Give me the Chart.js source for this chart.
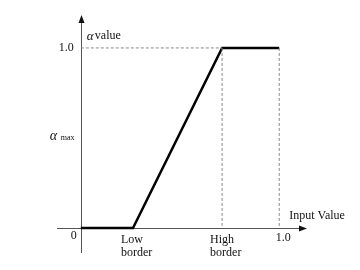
<!DOCTYPE html>
<html>
<head>
<meta charset="utf-8">
<script src="https://cdn.jsdelivr.net/npm/chart.js@4.4.1/dist/chart.umd.min.js"></script>
<style>
  html, body { margin: 0; padding: 0; background: #fff; }
  #wrap { width: 360px; height: 270px; }
</style>
</head>
<body>
<div id="wrap"><canvas id="alphaChart" width="360" height="270"></canvas></div>
<script>
// transfer curve: input value -> alpha
const lowBorder = 0.263;
const highBorder = 0.712;
const curveX = [0, lowBorder, highBorder, 1.0];
const curveY = [0, 0, 1.0, 1.0];
const alphaMax = 0.51;

// tick-style labels
const xLabels = [
    { x: lowBorder, lines: ['Low', 'border'] },
    { x: highBorder, lines: ['High', 'border'] },
    { x: 1.0, lines: ['1.0'] }
];
const yLabels = [
    { y: 1.0, text: '1.0' }
];

const xMin = -0.12, xMax = 1.14;
const yMin = -0.139, yMax = 1.183;

const serif = '"Liberation Serif", "DejaVu Serif", serif';

function toPoints(xs, ys) {
    return xs.map((x, i) => ({ x: x, y: ys[i] }));
}

const axesPlugin = {
    id: 'axesPlugin',
    beforeDatasetsDraw(chart) {
        const ctx = chart.ctx;
        const xs = chart.scales.x, ys = chart.scales.y;
        const x0 = xs.getPixelForValue(0), y0 = ys.getPixelForValue(0);
        const left = xs.getPixelForValue(xMin), right = xs.getPixelForValue(xMax);
        const top = ys.getPixelForValue(yMax), bottom = ys.getPixelForValue(yMin);
        ctx.save();
        ctx.strokeStyle = '#555';
        ctx.lineWidth = 1;
        ctx.beginPath();
        ctx.moveTo(left, Math.round(y0) + 0.5);
        ctx.lineTo(right - 4, Math.round(y0) + 0.5);
        ctx.moveTo(Math.round(x0) + 0.5, bottom);
        ctx.lineTo(Math.round(x0) + 0.5, top + 4);
        ctx.stroke();
        // arrow heads
        ctx.fillStyle = '#111';
        ctx.beginPath();
        ctx.moveTo(right, Math.round(y0) + 0.5);
        ctx.lineTo(right - 8, Math.round(y0) - 2.5);
        ctx.lineTo(right - 8, Math.round(y0) + 3.5);
        ctx.closePath();
        ctx.fill();
        ctx.beginPath();
        ctx.moveTo(Math.round(x0) + 0.5, top);
        ctx.lineTo(Math.round(x0) - 2.5, top + 8);
        ctx.lineTo(Math.round(x0) + 3.5, top + 8);
        ctx.closePath();
        ctx.fill();
        ctx.restore();
    },
    afterDraw(chart) {
        const ctx = chart.ctx;
        const xs = chart.scales.x, ys = chart.scales.y;
        const x0 = xs.getPixelForValue(0), y0 = ys.getPixelForValue(0);
        ctx.save();
        ctx.fillStyle = '#111';
        ctx.font = '12px ' + serif;
        ctx.textBaseline = 'middle';

        xLabels.forEach(l => {
            const px = xs.getPixelForValue(l.x);
            if (l.lines.length > 1) {
                ctx.textAlign = 'left';
                l.lines.forEach((t, i) => ctx.fillText(t, px - 12, y0 + 12 + i * 13));
            } else {
                ctx.textAlign = 'center';
                ctx.fillText(l.lines[0], px + 4, y0 + 10);
            }
        });

        ctx.textAlign = 'right';
        yLabels.forEach(l => ctx.fillText(l.text, x0 - 7, ys.getPixelForValue(l.y)));
        ctx.fillText('0', x0 - 4, y0 + 8);

        // alpha max
        ctx.textAlign = 'left';
        ctx.font = 'italic 14px ' + serif;
        ctx.fillText('α', x0 - 31, ys.getPixelForValue(alphaMax));
        ctx.font = '8px ' + serif;
        ctx.fillText('max', x0 - 20, ys.getPixelForValue(alphaMax) + 2);

        // axis titles
        ctx.font = 'italic 13px ' + serif;
        ctx.fillText('α', x0 + 6, 37);
        ctx.font = '12px ' + serif;
        ctx.fillText('value', x0 + 14, 36);
        ctx.fillText('Input Value', xs.getPixelForValue(1.0) + 10, y0 - 12);
        ctx.restore();
    }
};

new Chart(document.getElementById('alphaChart'), {
    type: 'line',
    data: {
        datasets: [
            {
                data: toPoints([0, highBorder], [1.0, 1.0]),
                borderColor: '#888', borderWidth: 1, borderDash: [3, 2],
                pointRadius: 0, tension: 0
            },
            {
                data: toPoints([highBorder, highBorder], [1.0, 0]),
                borderColor: '#888', borderWidth: 1, borderDash: [3, 2],
                pointRadius: 0, tension: 0
            },
            {
                data: toPoints([1.0, 1.0], [1.0, 0]),
                borderColor: '#888', borderWidth: 1, borderDash: [3, 2],
                pointRadius: 0, tension: 0
            },
            {
                data: toPoints(curveX, curveY),
                borderColor: '#000', borderWidth: 2.5,
                pointRadius: 0, tension: 0
            }
        ]
    },
    options: {
        responsive: false,
        animation: false,
        devicePixelRatio: 1,
        layout: { padding: { left: 57, right: 53, top: 15, bottom: 17 } },
        plugins: { legend: { display: false }, tooltip: { enabled: false } },
        scales: {
            x: { type: 'linear', min: xMin, max: xMax, display: false },
            y: { type: 'linear', min: yMin, max: yMax, display: false }
        }
    },
    plugins: [axesPlugin]
});
</script>
</body>
</html>
